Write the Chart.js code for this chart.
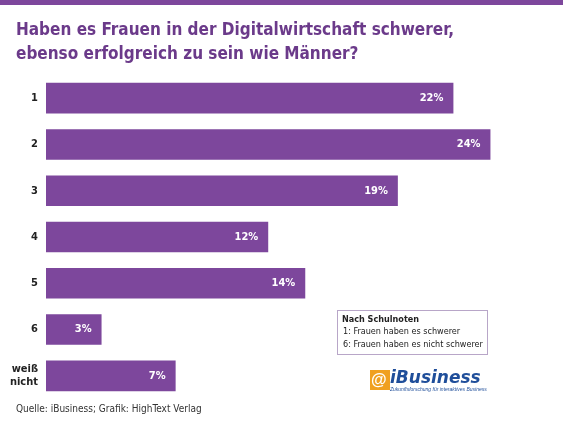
<!DOCTYPE html>
<html lang="de">
<head>
<meta charset="UTF-8">
<script src="https://cdn.jsdelivr.net/npm/chart.js@4"></script>
<style>
  html, body { margin: 0; padding: 0; background: #fff; }
  #wrap { position: relative; width: 563px; height: 424px; }
</style>
</head>
<body>
<div id="wrap"><canvas id="chart" width="563" height="424"></canvas></div>
<script>
const categories = ['1', '2', '3', '4', '5', '6', ['weiß', 'nicht']];
const values = [22, 24, 19, 12, 14, 3, 7];

const purple = '#7d479c';

const extras = {
  id: 'extras',
  afterDraw(chart) {
    const ctx = chart.ctx;
    ctx.save();
    // top band
    ctx.fillStyle = purple;
    ctx.fillRect(0, 0, 563, 5);
    // title
    ctx.fillStyle = '#6b3a8a';
    ctx.font = 'bold 17px "DejaVu Sans Condensed", sans-serif';
    ctx.textBaseline = 'alphabetic';
    ctx.fillText('Haben es Frauen in der Digitalwirtschaft schwerer,', 16, 35);
    ctx.fillText('ebenso erfolgreich zu sein wie Männer?', 16, 59);
    // value labels
    const meta = chart.getDatasetMeta(0);
    ctx.fillStyle = '#fff';
    ctx.font = 'bold 11px "DejaVu Sans Condensed", sans-serif';
    ctx.textAlign = 'right';
    ctx.textBaseline = 'middle';
    meta.data.forEach((bar, i) => {
      ctx.fillText(values[i] + '%', bar.x - 10, bar.y);
    });
    // legend box
    ctx.strokeStyle = '#b8a6c8';
    ctx.lineWidth = 1;
    ctx.strokeRect(337.5, 310.5, 150, 44);
    ctx.textAlign = 'left';
    ctx.fillStyle = '#222';
    ctx.font = 'bold 9px "DejaVu Sans Condensed", sans-serif';
    ctx.fillText('Nach Schulnoten', 342, 320);
    ctx.font = '9px "DejaVu Sans Condensed", sans-serif';
    ctx.fillText('1: Frauen haben es schwerer', 343, 332);
    ctx.fillText('6: Frauen haben es nicht schwerer', 343, 345);
    // logo
    ctx.fillStyle = '#f0a020';
    ctx.fillRect(370, 370, 20, 20);
    ctx.fillStyle = '#fff';
    ctx.font = 'bold 16px sans-serif';
    ctx.fillText('@', 371, 381);
    ctx.fillStyle = '#1f4e9a';
    ctx.font = 'italic bold 17px "DejaVu Sans", sans-serif';
    ctx.fillText('iBusiness', 390, 379);
    ctx.font = 'italic 5px sans-serif';
    ctx.fillText('Zukunftsforschung für interaktives Business', 390, 390);
    // source
    ctx.fillStyle = '#333';
    ctx.font = '10px "DejaVu Sans Condensed", sans-serif';
    ctx.fillText('Quelle: iBusiness; Grafik: HighText Verlag', 16, 409);
    ctx.restore();
  }
};

new Chart(document.getElementById('chart'), {
  type: 'bar',
  data: {
    labels: categories,
    datasets: [{
      data: values,
      backgroundColor: purple,
      categoryPercentage: 0.66,
      barPercentage: 1
    }]
  },
  options: {
    indexAxis: 'y',
    responsive: false,
    animation: false,
    layout: { padding: { top: 75, bottom: 25, right: 17, left: 0 } },
    plugins: { legend: { display: false }, tooltip: { enabled: false } },
    scales: {
      x: { min: 0, max: 27, display: false },
      y: {
        grid: { display: false },
        border: { display: false },
        afterFit(s) { s.width = 46; },
        ticks: {
          color: '#222',
          padding: 0,
          font: { family: '"DejaVu Sans Condensed", sans-serif', weight: 'bold', size: 11 }
        }
      }
    }
  },
  plugins: [extras]
});
</script>
</body>
</html>
